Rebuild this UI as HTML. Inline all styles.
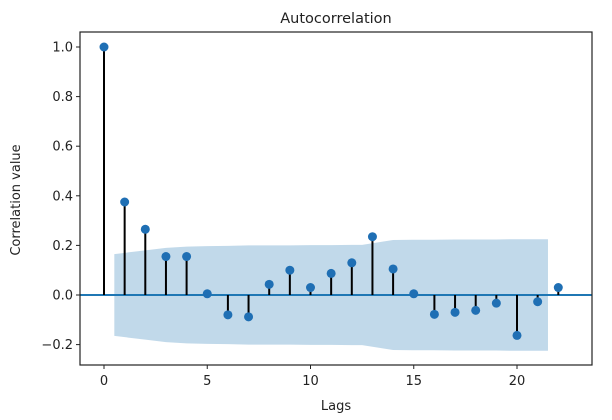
<!DOCTYPE html>
<html><head><meta charset="utf-8"><style>
body{margin:0;background:#fff;}
svg{display:block;font-family:"DejaVu Sans","Liberation Sans",sans-serif;}
</style></head><body>
<svg id="chart" width="612" height="420" viewBox="0 0 612 420">
<rect width="612" height="420" fill="#fff"/>
<g id="band"></g><g id="stems"></g><g id="axes"></g>
</svg>
<script>
const lags=[0,1,2,3,4,5,6,7,8,9,10,11,12,13,14,15,16,17,18,19,20,21,22];
const acfValues=[1.0,0.375,0.265,0.155,0.155,0.005,-0.08,-0.088,0.043,0.1,0.03,0.087,0.13,0.235,0.105,0.005,-0.078,-0.07,-0.062,-0.033,-0.163,-0.027,0.03];
const confUpper=[0.165,0.18,0.19,0.195,0.197,0.198,0.2,0.2,0.2,0.201,0.201,0.202,0.202,0.222,0.223,0.223,0.224,0.224,0.224,0.225,0.225,0.225];
const xTicks=[0,5,10,15,20];
const yTicks=[-0.2,0.0,0.2,0.4,0.6,0.8,1.0];
const L=80,R=592,T=32,B=365;
const xs=v=>104+(v)*20.65;
const ys=v=>295-v*248;
const NS="http://www.w3.org/2000/svg";
function mk(tag,attrs,parent,txt){const e=document.createElementNS(NS,tag);for(const k in attrs)e.setAttribute(k,attrs[k]);if(txt!==undefined)e.textContent=txt;parent.appendChild(e);return e;}
const band=document.getElementById('band'),stems=document.getElementById('stems'),axes=document.getElementById('axes');
const bx=confUpper.map((u,i)=>i===0?0.5:(i===confUpper.length-1?i+0.5:i+0.5+(i===12?0:0.5)));
let up=confUpper.map((u,i)=>[xs(bx[i]),ys(u)]);
let lo=confUpper.map((u,i)=>[xs(bx[i]),ys(-u)]).reverse();
const poly=mk('polygon',{points:up.concat(lo).map(p=>p.join(',')).join(' '),fill:'#1f77b4','fill-opacity':'0.28'},band);


const zl=mk('line',{x1:L,x2:R,y1:ys(0),y2:ys(0),stroke:'#1f77b4','stroke-width':2},stems);


lags.forEach((l,i)=>{
 const s=mk('line',{x1:xs(l),x2:xs(l),y1:ys(0),y2:ys(acfValues[i]),stroke:'#000','stroke-width':2},stems);
 
 
 const c=mk('circle',{cx:xs(l),cy:ys(acfValues[i]),r:4.5,fill:'#1f6fb4'},stems);
 
 
});
const fr=mk('rect',{x:L,y:T,width:R-L,height:B-T,fill:'none',stroke:'#222','stroke-width':1.2},axes);


xTicks.forEach(t=>{
 mk('line',{x1:xs(t),x2:xs(t),y1:B,y2:B+4,stroke:'#222'},axes);
 const tx=mk('text',{x:xs(t),y:B+20,'text-anchor':'middle','font-size':13,fill:'#222'},axes,String(t));
 
 
});
yTicks.forEach(t=>{
 mk('line',{x1:L-4,x2:L,y1:ys(t),y2:ys(t),stroke:'#222'},axes);
 const tx=mk('text',{x:L-7,y:ys(t)+4.5,'text-anchor':'end','font-size':13,fill:'#222'},axes,(t<0?'\u2212':'')+Math.abs(t).toFixed(1));
 
 
});
const ti=mk('text',{x:336,y:23,'text-anchor':'middle','font-size':14.5,fill:'#222'},axes,'Autocorrelation');


const xl=mk('text',{x:336,y:410,'text-anchor':'middle','font-size':13,fill:'#222'},axes,'Lags');


const yl=mk('text',{x:20,y:200,'text-anchor':'middle','font-size':13,fill:'#222',transform:'rotate(-90 20 200)'},axes,'Correlation value');


</script>
</body></html>
